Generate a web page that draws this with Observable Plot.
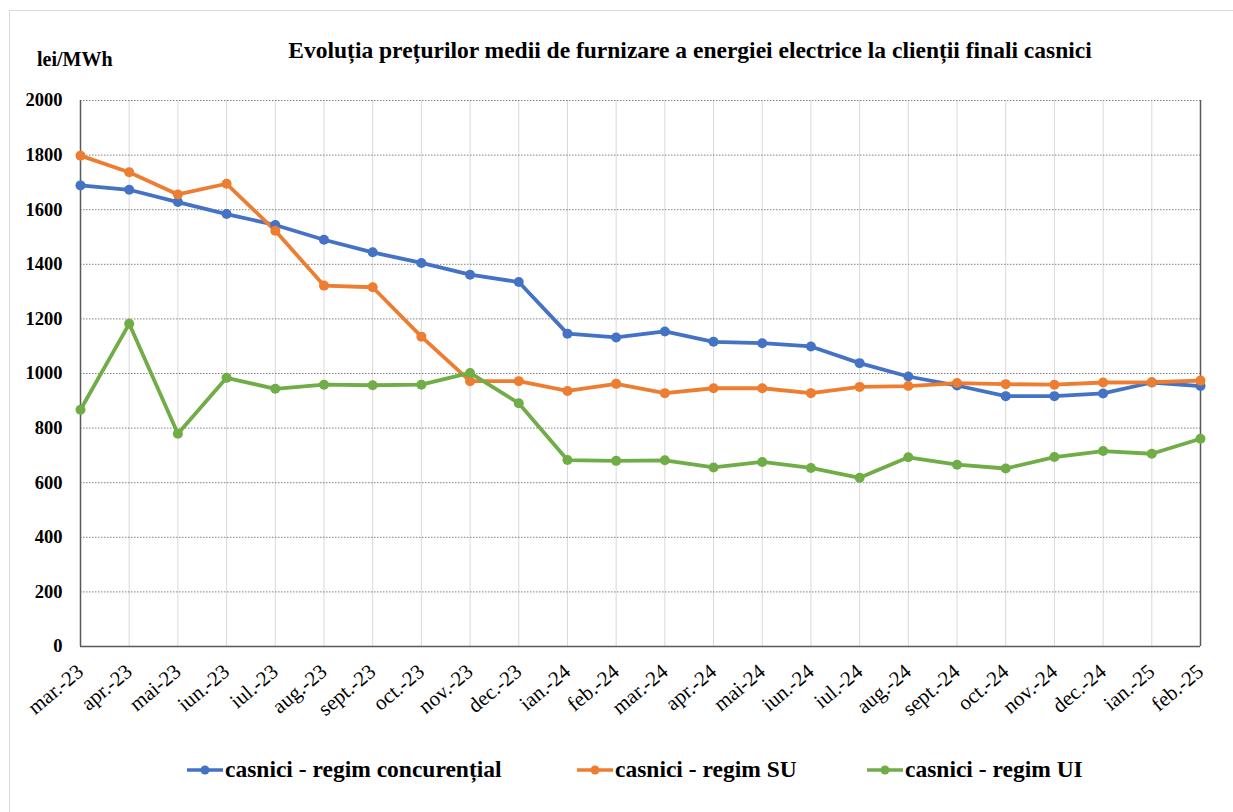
<!DOCTYPE html>
<html>
<head>
<meta charset="utf-8">
<script src="https://cdn.jsdelivr.net/npm/d3@7"></script>
<script src="https://cdn.jsdelivr.net/npm/@observablehq/plot@0.6"></script>
<style>
  body { margin: 0; background: #fff; font-family: "Liberation Serif", "Times New Roman", serif; }
  #wrap { position: relative; width: 1233px; height: 812px; overflow: hidden; background: #fff; }
  #frame { position: absolute; left: 9px; top: 10px; width: 1260px; height: 830px; border: 1px solid #d9d9d9; }
  #title { position: absolute; top: 39px; left: 690px; transform: translateX(-50%); white-space: nowrap; line-height: 1;
           font-family: "Liberation Serif", serif; font-weight: bold; font-size: 23.5px; color: #000; }
  #ylab { position: absolute; top: 49px; left: 37px; line-height: 1; font-family: "Liberation Serif", serif;
          font-weight: bold; font-size: 20px; color: #000; }
  #chart { position: absolute; left: 0; top: 0; }
  .leg { position: absolute; top: 758px; display: flex; align-items: center; line-height: 1;
         font-family: "Liberation Serif", serif; font-weight: bold; font-size: 23.5px; color: #000; white-space: nowrap; }
  .leg svg { margin-right: 2px; }
</style>
</head>
<body>
<div id="wrap">
  <div id="frame"></div>
  <div id="chart"></div>
  <div id="title">Evoluția prețurilor medii de furnizare a energiei electrice la clienții finali casnici</div>
  <div id="ylab">lei/MWh</div>
  <div id="legend"></div>
</div>
<script>
const months = ["mar.-23","apr.-23","mai-23","iun.-23","iul.-23","aug.-23","sept.-23","oct.-23","nov.-23","dec.-23",
  "ian.-24","feb.-24","mar.-24","apr.-24","mai-24","iun.-24","iul.-24","aug.-24","sept.-24","oct.-24","nov.-24","dec.-24",
  "ian.-25","feb.-25"];
const concurential = [1689,1673,1628,1584,1544,1490,1444,1405,1362,1335,1146,1132,1154,1116,1111,1099,1038,989,956,917,917,927,967,954];
const regimSU = [1798,1737,1656,1695,1523,1322,1316,1135,972,972,936,962,928,946,946,928,951,954,965,961,959,967,968,974];
const regimUI = [867,1182,779,984,944,959,957,959,1002,891,683,680,682,656,676,654,618,693,666,652,694,716,706,761];
const yTicks = [0,200,400,600,800,1000,1200,1400,1600,1800,2000];
const seriesNames = ["casnici - regim concurențial","casnici - regim SU","casnici - regim UI"];
const seriesColors = ["#4472C4","#ED7D31","#70AD47"];
const seriesValues = [concurential, regimSU, regimUI];

const data = [];
seriesNames.forEach((s, i) => months.forEach((m, j) => data.push({series: s, month: m, value: seriesValues[i][j]})));

const FONT = "'Liberation Serif', 'Times New Roman', serif";

const chart = Plot.plot({
  width: 1233,
  height: 740,
  marginTop: 100,
  marginLeft: 80,
  marginRight: 33,
  marginBottom: 94,
  style: { fontFamily: FONT, fontSize: "18px", color: "#000", background: "transparent", overflow: "visible" },
  x: { type: "point", domain: months, padding: 0, round: false },
  y: { domain: [0, 2000] },
  color: { domain: seriesNames, range: seriesColors },
  marks: [
    Plot.ruleX(months, { stroke: "#d9d9d9", strokeWidth: 1 }),
    Plot.ruleY(yTicks.filter(v => v > 0), { stroke: "#808080", strokeDasharray: "1.5,1.5", strokeWidth: 1 }),
    Plot.ruleY([0], { stroke: "#595959", strokeWidth: 1.5 }),
    Plot.ruleX([months[0], months[months.length - 1]], { stroke: "#595959", strokeWidth: 1.5 }),
    Plot.line(data, { x: "month", y: "value", z: "series", stroke: "series", strokeWidth: 3.8 }),
    Plot.dot(data, { x: "month", y: "value", fill: "series", r: 5 }),
    Plot.axisY(yTicks, { tickSize: 0, tickPadding: 18, tickFormat: "d", fontWeight: "bold", fontSize: 18.5, fontFamily: FONT, label: null }),
    Plot.axisX({ tickSize: 0, tickPadding: 22, tickRotate: -40, fontSize: "21px", fontFamily: FONT, label: null })
  ]
});
document.getElementById("chart").appendChild(chart);

const legendLefts = [187, 577, 867];
const legend = document.getElementById("legend");
seriesNames.forEach((s, i) => {
  const d = document.createElement("div");
  d.className = "leg";
  d.style.left = legendLefts[i] + "px";
  d.innerHTML = `<svg width="36" height="14"><line x1="0" x2="36" y1="7" y2="7" stroke="${seriesColors[i]}" stroke-width="3.5"/><circle cx="18" cy="7" r="4.5" fill="${seriesColors[i]}"/></svg><span>${s}</span>`;
  legend.appendChild(d);
});
</script>
</body>
</html>
